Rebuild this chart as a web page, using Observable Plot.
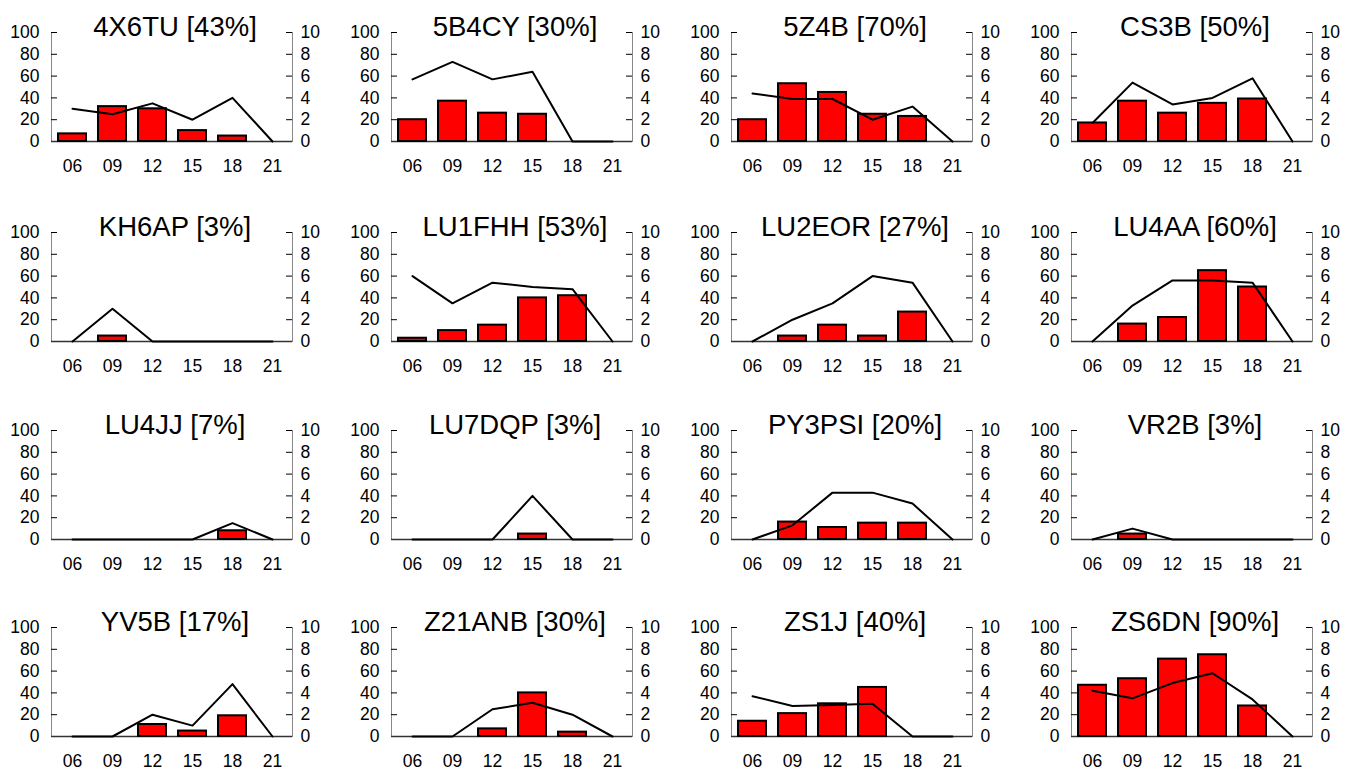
<!DOCTYPE html>
<html><head><meta charset="utf-8">
<script src="https://cdn.jsdelivr.net/npm/d3@7"></script>
<script src="https://cdn.jsdelivr.net/npm/@observablehq/plot@0.6"></script>
<style>
body{margin:0;background:#fff;}
#grid{position:relative;width:1354px;height:770px;overflow:hidden;}
.panel{position:absolute;width:339px;height:197px;}
.panel svg{max-width:none !important;}
</style></head><body><div id="grid"></div>
<script>
const hours = ["06", "09", "12", "15", "18", "21"];
const stations = ["4X6TU", "5B4CY", "5Z4B", "CS3B", "KH6AP", "LU1FHH", "LU2EOR", "LU4AA",
                  "LU4JJ", "LU7DQP", "PY3PSI", "VR2B", "YV5B", "Z21ANB", "ZS1J", "ZS6DN"];
const percents = [43, 30, 70, 50, 3, 53, 27, 60, 7, 3, 20, 3, 17, 30, 40, 90];
// bar values (left axis, 0-100)
const barValues = [
  [7, 32, 30, 10, 5, 0],
  [20, 37, 26, 25, 0, 0],
  [20, 53, 45, 25, 23, 0],
  [17, 37, 26, 35, 39, 0],
  [0, 5, 0, 0, 0, 0],
  [3, 10, 15, 40, 42, 0],
  [0, 5, 15, 5, 27, 0],
  [0, 16, 22, 65, 50, 0],
  [0, 0, 0, 0, 8, 0],
  [0, 0, 0, 5, 0, 0],
  [0, 16, 11, 15, 15, 0],
  [0, 5, 0, 0, 0, 0],
  [0, 0, 11, 5, 19, 0],
  [0, 0, 7, 40, 4, 0],
  [14, 21, 30, 45, 0, 0],
  [47, 53, 71, 75, 28, 0]
];
// line values (right axis, 0-10)
const lineValues = [
  [3.0, 2.5, 3.5, 2.0, 4.0, 0],
  [5.7, 7.3, 5.7, 6.4, 0, 0],
  [4.4, 3.9, 3.9, 2.0, 3.2, 0],
  [1.7, 5.4, 3.4, 4.0, 5.8, 0],
  [0, 3.0, 0, 0, 0, 0],
  [6.0, 3.5, 5.4, 5.0, 4.8, 0],
  [0, 2.0, 3.5, 6.0, 5.4, 0],
  [0, 3.3, 5.6, 5.6, 5.4, 0],
  [0, 0, 0, 0, 1.5, 0],
  [0, 0, 0, 4.0, 0, 0],
  [0, 1.3, 4.3, 4.3, 3.3, 0],
  [0, 1.0, 0, 0, 0, 0],
  [0, 0, 2.0, 1.0, 4.8, 0],
  [0, 0, 2.5, 3.1, 2.0, 0],
  [3.7, 2.8, 2.9, 3.0, 0, 0],
  [4.2, 3.5, 4.9, 5.8, 3.4, 0]
];
const leftTicks = [0, 20, 40, 60, 80, 100];
const rightTickLabels = ["0", "2", "4", "6", "8", "10"];

const colLeft = [0, 340, 680, 1020];
const rowTop = [0, 200, 398, 595];
const font = "'Liberation Sans', Arial, Helvetica, sans-serif";
const grid = document.getElementById("grid");

stations.forEach((name, i) => {
  const data = hours.map((h, j) => ({hour: h, pct: barValues[i][j], cnt: lineValues[i][j]}));
  const title = `${name} [${percents[i]}%]`;
  const chart = Plot.plot({
    width: 339, height: 197,
    marginLeft: 51, marginRight: 47, marginTop: 32, marginBottom: 56,
    style: {fontFamily: font, fontSize: "17.5px", color: "black", background: "transparent", overflow: "visible", maxWidth: "none"},
    x: {type: "band", domain: hours, paddingInner: 0.3, paddingOuter: 0.15, axis: null},
    y: {domain: [0, 100], axis: null},
    marks: [
      Plot.frame({anchor: "left", stroke: "#888", strokeWidth: 1}),
      Plot.frame({anchor: "right", stroke: "#888", strokeWidth: 1}),
      Plot.tickY(leftTicks, {y: d => d, insetRight: 235, stroke: "black"}),
      Plot.tickY(leftTicks, {y: d => d, insetLeft: 235, stroke: "black"}),
      Plot.axisY({anchor: "left", ticks: leftTicks, tickSize: 0, tickPadding: 12, fontSize: 17.5, label: null}),
      Plot.axisY({anchor: "right", ticks: leftTicks, tickSize: 0, tickPadding: 8, fontSize: 17.5, label: null,
                  tickFormat: d => rightTickLabels[leftTicks.indexOf(d)]}),
      Plot.axisX({anchor: "bottom", tickSize: 0, tickPadding: 18, fontSize: 17.5, label: null}),
      Plot.ruleY([0], {stroke: "#333", strokeWidth: 1.5}),
      Plot.barY(data.filter(d => d.pct > 0), {x: "hour", y: "pct", fill: "#ff0000", stroke: "black", strokeWidth: 2}),
      Plot.line(data, {x: "hour", y: d => d.cnt * 10, stroke: "black", strokeWidth: 2}),
      Plot.text([title], {frameAnchor: "top", lineAnchor: "bottom", dy: 3, dx: 3, fontSize: 27.5, fill: "black"})
    ]
  });
  const div = document.createElement("div");
  div.className = "panel";
  div.style.left = colLeft[i % 4] + "px";
  div.style.top = rowTop[Math.floor(i / 4)] + "px";
  div.appendChild(chart);
  grid.appendChild(div);
});
</script></body></html>
